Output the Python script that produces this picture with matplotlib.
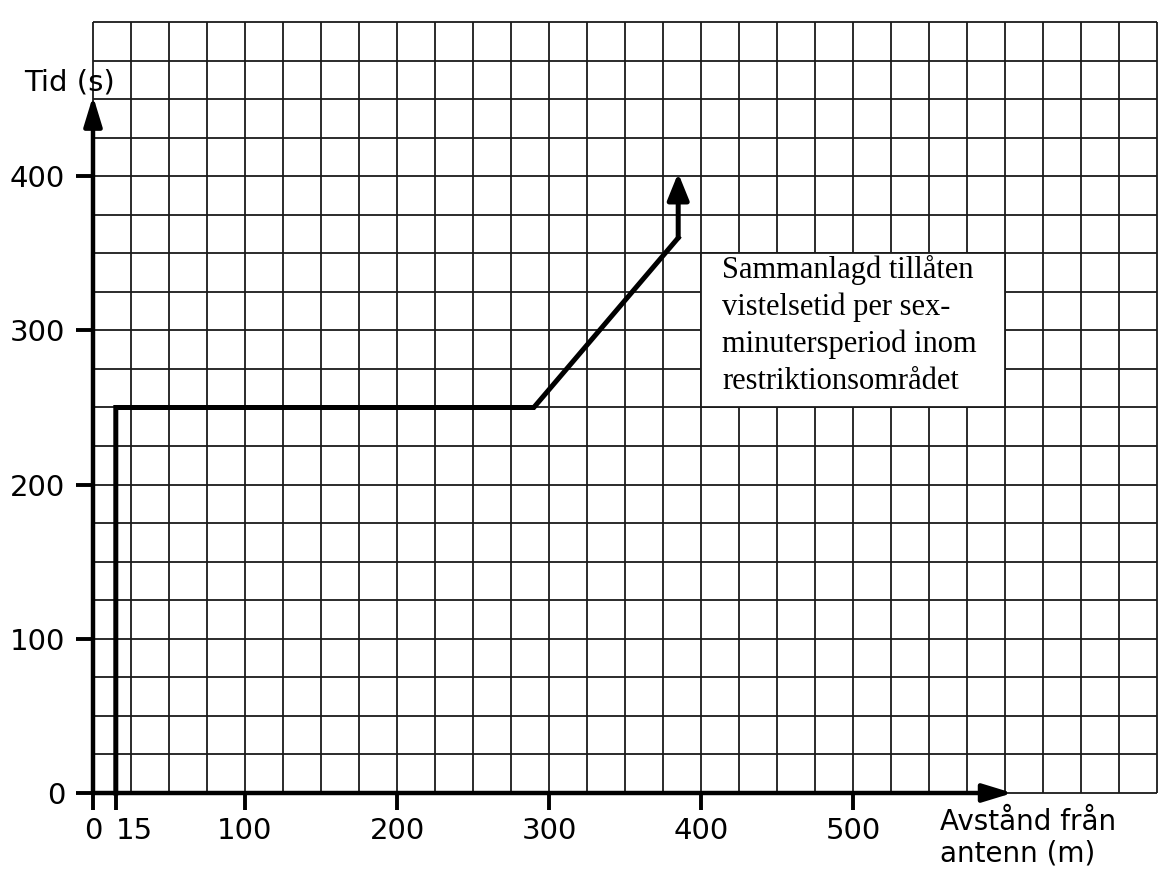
import numpy as np
import matplotlib
matplotlib.use('Agg')
import matplotlib.pyplot as plt
from matplotlib.patches import Rectangle

# gränskurva: avstånd (m) och tid (s)
avstand = [15, 15, 290, 385, 385]
tid = [0, 250, 250, 360, 402]

x_ticks = [0, 15, 100, 200, 300, 400, 500]
x_labels = ['0', '15', '100', '200', '300', '400', '500']
y_ticks = [0, 100, 200, 300, 400]
y_labels = ['0', '100', '200', '300', '400']

rutsteg = 25
x_max = 700
y_max = 500

text_ruta = "Sammanlagd tillåten\nvistelsetid per sex-\nminutersperiod inom\nrestriktionsområdet"

fig = plt.figure(figsize=(11.59, 8.71), dpi=100)
ax = fig.add_axes([93/1159, 78/871, 1064/1159, 771/871])
ax.set_xlim(0, x_max)
ax.set_ylim(0, y_max)
for s in ax.spines.values():
    s.set_visible(False)

# rutnät (millimeterpapper)
gx = np.arange(0, x_max + 1, rutsteg)
gy = np.arange(0, y_max + 1, rutsteg)
ax.vlines(gx, 0, y_max, color='#1a1a1a', lw=1.3, zorder=1, clip_on=False)
ax.hlines(gy, 0, x_max, color='#1a1a1a', lw=1.3, zorder=1, clip_on=False)

# vit ruta för texten
ax.add_patch(Rectangle((400, 250), 200, 100, facecolor='white',
                       edgecolor='#1a1a1a', lw=1.3, zorder=2))
ax.text(414, 349, text_ruta, family='Liberation Serif', fontsize=22,
        ha='left', va='top', linespacing=1.34, zorder=3)

# axlar med pilar
pil = dict(arrowstyle='-|>,head_length=1.8,head_width=0.55', lw=3.2,
           color='black', shrinkA=0, shrinkB=0, mutation_scale=10)
ax.annotate('', xy=(0, 452), xytext=(0, 0), arrowprops=pil,
            annotation_clip=False, zorder=4)
ax.annotate('', xy=(605, 0), xytext=(0, 0), arrowprops=pil,
            annotation_clip=False, zorder=4)

# kurvan
ax.plot(avstand[:-1], tid[:-1], color='black', lw=3.6,
        solid_joinstyle='miter', zorder=5, clip_on=False)
pil2 = dict(pil)
pil2['lw'] = 3.6
pil2['arrowstyle'] = '-|>,head_length=1.6,head_width=0.65'
ax.annotate('', xy=(avstand[-1], tid[-1]), xytext=(avstand[-2], tid[-2]),
            arrowprops=pil2, annotation_clip=False, zorder=5)

ax.set_xticks(x_ticks)
ax.set_xticklabels(x_labels, fontsize=21)
ax.set_yticks(y_ticks)
ax.set_yticklabels(y_labels, fontsize=21)
ax.tick_params(axis='both', length=12, width=2.8, color='black')
ax.tick_params(axis='x', pad=5)
ax.tick_params(axis='y', pad=8)
for lab in ax.get_xticklabels():
    if lab.get_text() == '15':
        lab.set_horizontalalignment('left')

ax.text(-45, 461, 'Tid (s)', fontsize=21, ha='left', va='center')
ax.text(557, -10, 'Avstånd från\nantenn (m)', fontsize=20, ha='left',
        va='top', linespacing=1.15)

fig.savefig('out.png', dpi=100)
